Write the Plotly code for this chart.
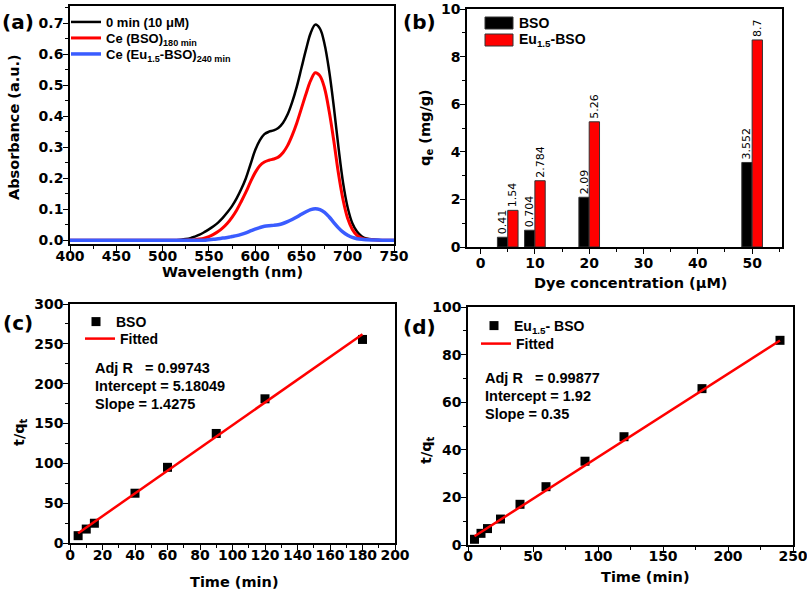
import plotly.graph_objects as go

W, H = 807, 598

# ---------- data ----------
# (a) UV-vis spectra
wl = [400, 420, 440, 460, 480, 500, 510,
      520, 525, 530, 535, 540, 545, 550, 555, 560, 565, 570, 575, 580, 585,
      590, 595, 600, 605, 610, 615, 620, 625, 630, 635, 640, 645, 650, 655,
      660, 665, 670, 675, 680, 685, 690, 695, 700, 705, 710, 715, 720,
      730, 740, 750]
abs_0min = [0, 0, 0, 0, 0, 0, 0,
            0.002, 0.004, 0.007, 0.012, 0.018, 0.026, 0.035, 0.045, 0.057, 0.072, 0.09, 0.11, 0.135, 0.165,
            0.2, 0.245, 0.29, 0.322, 0.342, 0.35, 0.354, 0.362, 0.378, 0.405, 0.445, 0.495, 0.555, 0.615,
            0.668, 0.695, 0.682, 0.632, 0.545, 0.43, 0.3, 0.185, 0.105, 0.055, 0.028, 0.013, 0.006,
            0.002, 0, 0]
abs_bso = [0, 0, 0, 0, 0, 0, 0,
           0, 0, 0.001, 0.002, 0.004, 0.007, 0.012, 0.019, 0.028, 0.04, 0.055, 0.074, 0.097, 0.125,
           0.155, 0.188, 0.218, 0.24, 0.252, 0.258, 0.262, 0.268, 0.282, 0.305, 0.338, 0.378, 0.425, 0.472,
           0.515, 0.54, 0.53, 0.49, 0.415, 0.32, 0.215, 0.13, 0.07, 0.035, 0.016, 0.007, 0.003,
           0.001, 0, 0]
abs_eu = [0, 0, 0, 0, 0, 0, 0,
          0, 0, 0, 0, 0, 0, 0.002, 0.003, 0.005, 0.007, 0.009, 0.012, 0.015, 0.019,
          0.024, 0.03, 0.036, 0.041, 0.045, 0.047, 0.048, 0.05, 0.054, 0.06, 0.067, 0.075, 0.084, 0.092,
          0.099, 0.102, 0.099, 0.09, 0.075, 0.057, 0.04, 0.026, 0.016, 0.009, 0.005, 0.003, 0.002,
          0.001, 0, 0]

# (b) adsorption capacity
dye_conc = [5, 10, 20, 50]
qe_bso = [0.41, 0.704, 2.09, 3.552]
qe_eu = [1.54, 2.784, 5.26, 8.7]
qe_bso_lbl = ["0.41", "0.704", "2.09", "3.552"]
qe_eu_lbl = ["1.54", "2.784", "5.26", "8.7"]

# (c) BSO kinetics
t_bso = [5, 10, 15, 40, 60, 90, 120, 180]
tq_bso = [9.2, 17.5, 24.8, 62.5, 95, 137.5, 181, 255.5]
fit_bso_t = [5, 180]
fit_bso_y = [12.3, 262.1]
txt_bso = ["Adj R&nbsp;&nbsp; = 0.99743", "Intercept = 5.18049", "Slope = 1.4275"]

# (d) Eu1.5-BSO kinetics
t_eu = [5, 10, 15, 25, 40, 60, 90, 120, 180, 240]
tq_eu = [2.4, 4.9, 6.9, 10.9, 17.1, 24.5, 35.2, 45.5, 65.7, 86]
fit_eu_t = [5, 240]
fit_eu_y = [3.67, 85.9]
txt_eu = ["Adj R&nbsp;&nbsp; = 0.99877", "Intercept = 1.92", "Slope = 0.35"]

# ---------- helpers ----------
FONT = "Arial, Liberation Sans, sans-serif"
WIDE = "DejaVu Sans, Verdana, sans-serif"


def px_x(p):
    return p / W


def px_y(p):
    return 1 - p / H


def axis(dom, rng, dtick, mdtick, anchor, standoff, tickfmt=None):
    d = dict(
        domain=dom, range=rng, dtick=dtick, tick0=0, anchor=anchor, automargin=False,
        showline=True, linecolor="black", linewidth=1.6, mirror=True,
        ticks="outside", ticklen=5, tickwidth=1.4, tickcolor="black",
        showgrid=False, zeroline=False,
        ticklabelstandoff=standoff, ticklabeloverflow="allow",
        tickfont=dict(family=WIDE, size=14, color="black", weight="bold"),
        minor=dict(ticks="outside", ticklen=3, tickwidth=1.2, tickcolor="black", dtick=mdtick),
    )
    if tickfmt:
        d["tickformat"] = tickfmt
    return d


fig = go.Figure()

# (a)
fig.add_trace(go.Scatter(x=wl, y=abs_0min, mode="lines", name="0 min (10 μM)",
                         line=dict(color="black", width=2.5, shape="spline"),
                         xaxis="x", yaxis="y", legend="legend"))
fig.add_trace(go.Scatter(x=wl, y=abs_bso, mode="lines", name="Ce (BSO)<sub>180 min</sub>",
                         line=dict(color="#ff0000", width=3, shape="spline"),
                         xaxis="x", yaxis="y", legend="legend5"))
fig.add_trace(go.Scatter(x=wl, y=abs_eu, mode="lines", name="Ce (Eu<sub>1.5</sub>-BSO)<sub>240 min</sub>",
                         line=dict(color="#3a5cff", width=3.5, shape="spline"),
                         xaxis="x", yaxis="y", legend="legend6"))

# (b)
fig.add_trace(go.Bar(x=dye_conc, y=qe_bso, name="BSO", width=1.9, offset=-1.9,
                     marker=dict(color="black", line=dict(color="#333333", width=1)),
                     text=qe_bso_lbl, textposition="outside", textangle=-90, constraintext="none",
                     textfont=dict(family=WIDE, size=11, color="black"), cliponaxis=False,
                     xaxis="x2", yaxis="y2", showlegend=False))
fig.add_trace(go.Bar(x=dye_conc, y=qe_eu, name="Eu<sub>1.5</sub>-BSO", width=1.9, offset=0,
                     marker=dict(color="#ff0000", line=dict(color="#333333", width=1)),
                     text=qe_eu_lbl, textposition="outside", textangle=-90, constraintext="none",
                     textfont=dict(family=WIDE, size=11, color="black"), cliponaxis=False,
                     xaxis="x2", yaxis="y2", showlegend=False))

# (c)
fig.add_trace(go.Scatter(x=t_bso, y=tq_bso, mode="markers", name="BSO",
                         marker=dict(symbol="square", size=9, color="black"),
                         xaxis="x3", yaxis="y3", legend="legend3", cliponaxis=False))
fig.add_trace(go.Scatter(x=fit_bso_t, y=fit_bso_y, mode="lines", name="Fitted",
                         line=dict(color="#ff0000", width=2.5),
                         xaxis="x3", yaxis="y3", legend="legend7"))

# (d)
fig.add_trace(go.Scatter(x=t_eu, y=tq_eu, mode="markers", name="Eu<sub>1.5</sub>- BSO",
                         marker=dict(symbol="square", size=9, color="black"),
                         xaxis="x4", yaxis="y4", legend="legend4", cliponaxis=False))
fig.add_trace(go.Scatter(x=fit_eu_t, y=fit_eu_y, mode="lines", name="Fitted",
                         line=dict(color="#ff0000", width=2.5),
                         xaxis="x4", yaxis="y4", legend="legend8"))


def legend(x, y, size=13):
    return dict(x=px_x(x), y=px_y(y), xanchor="left", yanchor="middle", bgcolor="rgba(0,0,0,0)",
                font=dict(family=FONT, size=size, color="black", weight="bold"),
                tracegroupgap=0, itemwidth=30)


fig.update_layout(
    width=W, height=H, margin=dict(l=0, r=0, t=0, b=0, autoexpand=False),
    paper_bgcolor="white", plot_bgcolor="white",
    showlegend=True, barmode="overlay",
    xaxis=axis([px_x(70), px_x(394)], [400, 750], 50, 25, "y", -7),
    yaxis=axis([px_y(244), px_y(6)], [-0.012, 0.755], 0.1, 0.05, "x", -3, ".1f"),
    xaxis2=axis([px_x(467), px_x(782)], [-2.5, 55.5], 10, 5, "y2", -3),
    yaxis2=axis([px_y(247), px_y(9)], [0, 10], 2, 1, "x2", -3),
    xaxis3=axis([px_x(70), px_x(395)], [0, 200], 20, 10, "y3", -7),
    yaxis3=axis([px_y(543), px_y(304)], [0, 300], 50, 25, "x3", -3),
    xaxis4=axis([px_x(468), px_x(793)], [0, 250], 50, 25, "y4", -8),
    yaxis4=axis([px_y(545), px_y(307)], [0, 100], 20, 10, "x4", -3),
    legend=legend(66, 22),
    legend5=legend(66, 38),
    legend6=legend(66, 54),
    legend3=legend(76, 322, 14),
    legend7=legend(80, 339, 14),
    legend4=legend(474, 326, 14),
    legend8=legend(476, 344, 14),
)

ann = []
# panel labels
for lbl, x, y in [("(a)", 18, 22), ("(b)", 419, 22), ("(c)", 18, 323), ("(d)", 419, 327)]:
    ann.append(dict(text=lbl, x=px_x(x), y=px_y(y), xref="paper", yref="paper",
                    showarrow=False, xanchor="center", yanchor="middle",
                    font=dict(family=WIDE, size=20, color="black", weight="bold")))
# axis titles
tfont = dict(family=WIDE, size=14.5, color="black", weight="bold")
for s, x, y, ang in [("Wavelength (nm)", 232, 272, 0), ("Absorbance (a.u.)", 14, 127, -90),
                     ("Dye concentration (μM)", 630, 283, 0), ("q<sub>e</sub> (mg/g)", 426, 128, -90),
                     ("Time (min)", 234, 582, 0), ("t/q<sub>t</sub>", 20, 432, -90),
                     ("Time (min)", 645, 577, 0), ("t/q<sub>t</sub>", 427, 450, -90)]:
    ann.append(dict(text=s, x=px_x(x), y=px_y(y), xref="paper", yref="paper", textangle=ang,
                    showarrow=False, xanchor="center", yanchor="middle", font=tfont))
# fit statistics
for lines, x, y0 in [(txt_bso, 93, 368), (txt_eu, 483, 378)]:
    for i, s in enumerate(lines):
        ann.append(dict(text=s, x=px_x(x), y=px_y(y0 + 18 * i), xref="paper", yref="paper",
                        showarrow=False, xanchor="left", yanchor="middle",
                        font=dict(family=FONT, size=14.5, color="black", weight="bold")))
# legend of panel (b)
shapes = []
for (lbl, col, y) in [("BSO", "black", 23), ("Eu<sub>1.5</sub>-BSO", "#ff0000", 40)]:
    shapes.append(dict(type="rect", xref="paper", yref="paper",
                       x0=px_x(485), x1=px_x(513), y0=px_y(y - 6), y1=px_y(y + 6),
                       fillcolor=col, line=dict(color="#333333", width=1)))
    ann.append(dict(text=lbl, x=px_x(517), y=px_y(y), xref="paper", yref="paper",
                    showarrow=False, xanchor="left", yanchor="middle",
                    font=dict(family=FONT, size=14, color="black", weight="bold")))
fig.update_layout(annotations=ann, shapes=shapes)

fig.write_html("out.html")
